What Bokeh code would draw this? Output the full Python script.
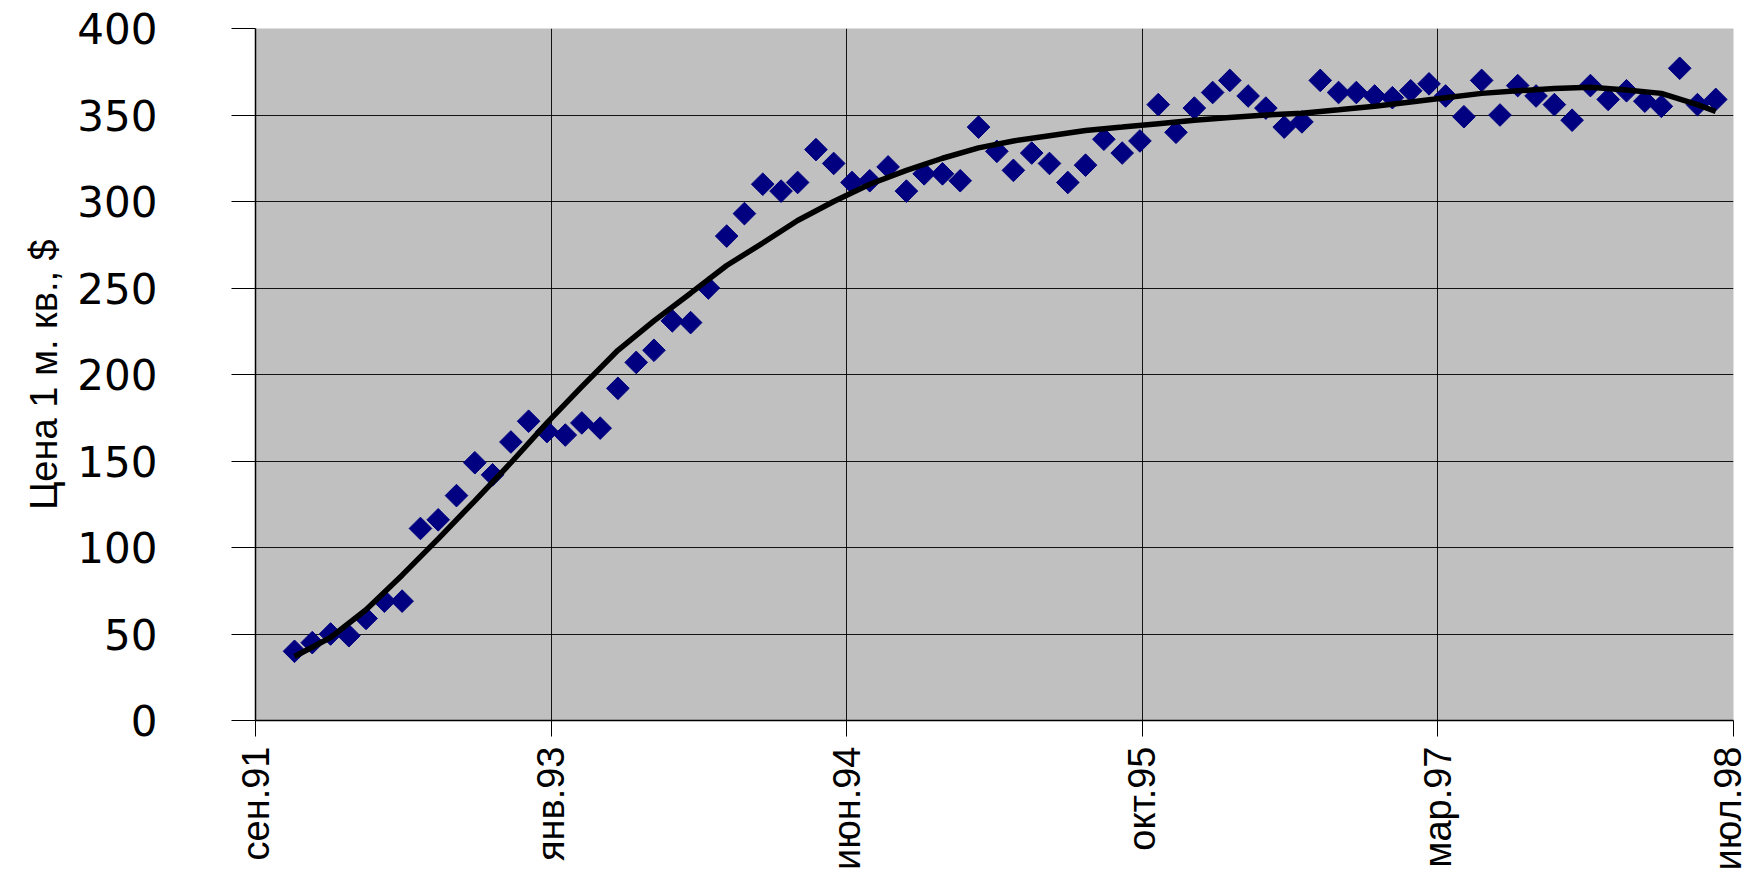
import math
import pandas as pd
from bokeh.plotting import figure
from bokeh.models import Range1d, FixedTicker, Title
from bokeh.embed import file_html
from bokeh.resources import INLINE

# ---- data -------------------------------------------------------------
first_month = "1991-11-01"          # monthly observations, Nov 1991 .. Jun 1998
price = [40, 45, 50, 49, 59, 69, 69, 111, 116, 130,
         149, 142, 161, 173, 167, 165, 172, 169, 192, 207,
         214, 231, 230, 250, 280, 293, 310, 306, 311, 330,
         322, 311, 312, 320, 306, 316, 316, 312, 343, 329,
         318, 328, 322, 311, 321, 336, 328, 335, 356, 340,
         354, 363, 370, 361, 354, 343, 346, 370, 363, 363,
         361, 360, 364, 368, 361, 349, 370, 350, 367, 361,
         356, 347, 367, 359, 364, 358, 355, 377, 356, 359]
# trend line read every second month (plus last month)
trend = [37, 48, 64, 84, 105, 127, 149, 172, 193, 214,
         231, 247, 263, 276, 289, 300, 310, 318, 325, 331,
         335, 338, 341, 343, 345, 347, 348.5, 350, 351, 353,
         355, 357.5, 360, 362.5, 364, 365.3, 366, 364.5, 362.5, 356,
         352]
axis_start = "1991-09-10"
axis_step_days = 500
tick_labels = ["сен.91", "янв.93", "июн.94", "окт.95", "мар.97", "июл.98"]
y_ticks = [0, 50, 100, 150, 200, 250, 300, 350, 400]
y_label = "Цена 1 м. кв., $"

# ---- derived positions --------------------------------------------------
dates = pd.date_range(first_month, periods=len(price), freq="MS") + pd.Timedelta(days=14)
t0 = pd.Timestamp(axis_start)
x_days = [(d - t0).days for d in dates]
trend_x = x_days[::2] + [x_days[-1]]
tick_vals = [k * axis_step_days for k in range(len(tick_labels))]

W, H = 1748, 874
p = figure(width=W, height=H, output_backend="svg", toolbar_location=None,
           x_range=Range1d(tick_vals[0], tick_vals[-1]), y_range=Range1d(0, 400),
           min_border_left=255, min_border_right=15, min_border_top=28,
           min_border_bottom=154)

p.background_fill_color = "#C0C0C0"
p.border_fill_color = "white"
p.outline_line_color = None

p.xgrid.ticker = FixedTicker(ticks=tick_vals)
p.ygrid.ticker = FixedTicker(ticks=y_ticks)
for g in (p.xgrid, p.ygrid):
    g.grid_line_color = "black"
    g.grid_line_width = 1
    g.grid_line_alpha = 0.9

xa = p.xaxis[0]
xa.ticker = FixedTicker(ticks=tick_vals)
xa.major_label_overrides = {v: lab for v, lab in zip(tick_vals, tick_labels)}
xa.major_label_orientation = math.pi / 2
xa.major_label_text_font = "Liberation Sans"
xa.major_label_text_font_size = "38px"
xa.major_label_text_color = "black"
xa.major_label_standoff = 10
xa.major_tick_out = 16
xa.major_tick_in = 0
xa.minor_tick_out = 0
xa.minor_tick_in = 0
xa.axis_line_color = "black"
xa.axis_line_width = 1.5
xa.major_tick_line_color = "black"

ya = p.yaxis[0]
ya.ticker = FixedTicker(ticks=y_ticks)
ya.major_label_text_font = "DejaVu Sans"
ya.major_label_text_font_size = "42px"
ya.major_label_text_color = "black"
ya.major_label_standoff = 74
ya.major_tick_out = 24
ya.major_tick_in = 0
ya.minor_tick_out = 0
ya.minor_tick_in = 0
ya.axis_line_color = "black"
ya.axis_line_width = 1.5
ya.major_tick_line_color = "black"

# y axis title, slightly above the centre of the plot area as in the original
p.add_layout(Title(text=y_label, align="center", offset=33, standoff=20,
                   text_font="Liberation Sans", text_font_size="38px",
                   text_font_style="normal", text_color="black"), "left")

p.scatter(x_days, price, marker="square", angle=math.pi / 4, size=16,
          fill_color="#000080", line_color="#000080")
p.line(trend_x, trend, line_color="black", line_width=5.5)

open("out.html", "w").write(file_html(p, INLINE))
